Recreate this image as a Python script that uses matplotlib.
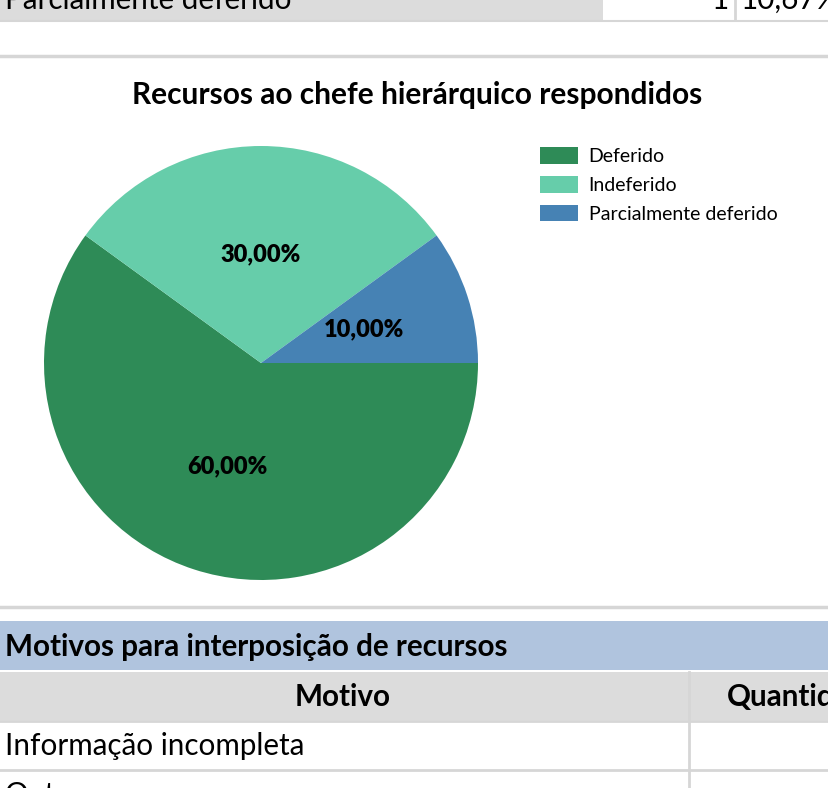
import matplotlib.pyplot as plt
from matplotlib.patches import Rectangle

plt.rcParams['font.family'] = ['Lato', 'DejaVu Sans']

# pie data
labels = ["Deferido", "Indeferido", "Parcialmente deferido"]
values = [60, 30, 10]
colors = ["#2E8B57", "#66CDAA", "#4682B4"]

title = "Recursos ao chefe hierárquico respondidos"

# table fragments around the chart
top_row = ["Parcialmente deferido", "1", "10,67%"]
table_title = "Motivos para interposição de recursos"
table_header = ["Motivo", "Quantidade"]
table_rows = ["Informação incompleta", "Outros"]

W, H = 829, 788
fig = plt.figure(figsize=(W / 100, H / 100), dpi=100)

bg = fig.add_axes([0, 0, 1, 1])
bg.set_xlim(0, W)
bg.set_ylim(H, 0)
bg.axis('off')

grid = "#D6D6D6"
grey = "#DCDCDC"
fs = 21.3

# top row (cut off)
bg.add_patch(Rectangle((0, -5), 603, 25, color=grey, lw=0))
bg.text(5, 9, top_row[0], fontsize=fs, va='baseline', ha='left')
bg.text(729, 9, top_row[1], fontsize=fs, va='baseline', ha='right')
bg.text(741, 9, top_row[2], fontsize=fs, va='baseline', ha='left')
bg.plot([735, 735], [-5, 20], color=grid, lw=2)
bg.plot([0, W], [21, 21], color=grid, lw=1.5)

# chart frame lines
bg.plot([0, W], [55.5, 55.5], color=grid, lw=2.5)
bg.plot([0, W], [607, 607], color=grid, lw=2.5)

bg.text(417, 95, title, fontsize=21.5, fontweight='bold', ha='center', va='center')

# table below
bg.add_patch(Rectangle((0, 621), W, 49, color="#B0C4DE", lw=0))
bg.text(5, 647, table_title, fontsize=fs, fontweight='bold', va='center', ha='left')
bg.add_patch(Rectangle((0, 672), W, 48, color=grey, lw=0))
bg.text(343, 697, table_header[0], fontsize=fs, fontweight='bold', va='center', ha='center')
bg.text(727, 697, table_header[1], fontsize=fs, fontweight='bold', va='center', ha='left')
bg.plot([0, W], [721, 721], color=grid, lw=2)
bg.plot([0, W], [769.5, 769.5], color=grid, lw=2)
bg.plot([689, 689], [672, H], color=grid, lw=2)
bg.text(5, 746, table_rows[0], fontsize=fs, va='center', ha='left')
bg.text(5, 804, table_rows[1], fontsize=fs, va='baseline', ha='left')

# pie
cx, cy, r = 261, 363, 217
ax = fig.add_axes([(cx - r) / W, (H - cy - r) / H, 2 * r / W, 2 * r / H])
wedges, texts, autotexts = ax.pie(
    values, colors=colors, startangle=0, counterclock=False,
    autopct=lambda p: "{:.2f}%".format(p).replace(".", ","),
    pctdistance=0.5, wedgeprops=dict(linewidth=0),
    textprops=dict(fontsize=17, fontweight='heavy', color='black'))
ax.set_xlim(-1, 1)
ax.set_ylim(-1, 1)

fig.legend(wedges, labels, loc='upper left', bbox_to_anchor=(540 / W, 1 - 147 / H),
           frameon=False, fontsize=14, handlelength=1.95, handleheight=0.95,
           handletextpad=0.55, labelspacing=0.55, borderpad=0, borderaxespad=0)

fig.savefig("out.png", dpi=100)
plt.close()
